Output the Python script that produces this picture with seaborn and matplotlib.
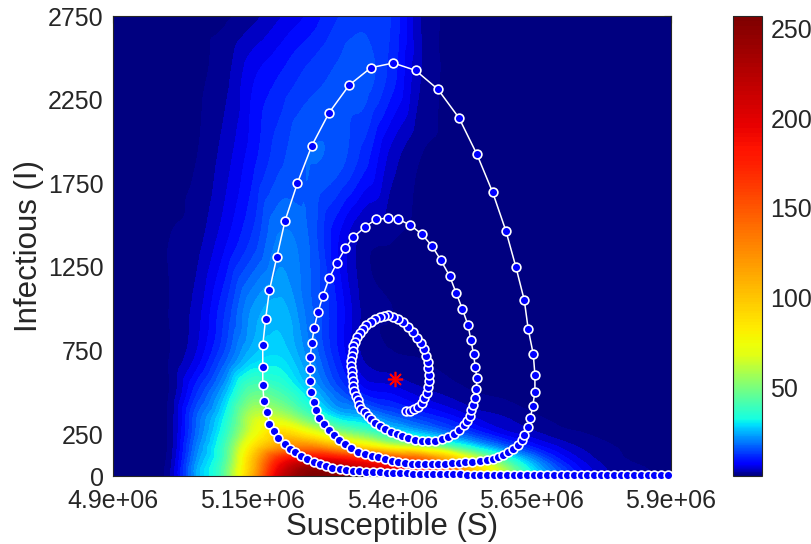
import numpy as np
import pandas as pd
import matplotlib
matplotlib.use("Agg")
import matplotlib.pyplot as plt
import matplotlib.tri as mtri
from matplotlib.colors import ListedColormap, Normalize
from matplotlib.cm import ScalarMappable
import seaborn as sns

# ---- density surface (rows follow grid_I, columns grid_S)
grid_S = [4.90, 5.00, 5.05, 5.10, 5.15, 5.20, 5.25, 5.30, 5.35, 5.40,
          5.45, 5.50, 5.55, 5.60, 5.65, 5.70, 5.75, 5.80, 5.90]   # x 1e6
grid_I = [0, 40, 100, 175, 250, 350, 500, 700, 1000, 1400, 1900, 2400, 2750]
density = [
    [0, 2, 24, 45, 110, 210, 255, 250, 225, 200, 180, 150, 100, 60, 32, 16, 6, 2, 0],
    [0, 2, 24, 45, 105, 200, 245, 240, 215, 195, 178, 145, 95, 58, 30, 15, 6, 2, 0],
    [0, 1.5, 22, 42, 100, 175, 195, 190, 175, 160, 145, 110, 68, 40, 22, 10, 4, 1, 0],
    [0, 1, 20, 40, 85, 120, 130, 110, 88, 70, 60, 45, 30, 18, 10, 5, 2, 0.5, 0],
    [0, 1, 18, 36, 70, 95, 80, 60, 48, 35, 28, 20, 13, 7, 4, 1.5, 0.5, 0, 0],
    [0, 1, 17, 32, 62, 62, 45, 30, 25, 18, 13, 9, 5, 3, 1, 0, 0, 0, 0],
    [0, 0.5, 12, 25, 45, 40, 28, 17, 9, 7, 4, 2, 0.5, 0, 0, 0, 0, 0, 0],
    [0, 0.5, 6, 16, 27, 29, 21, 11, 2.5, 1, 0.5, 0, 0, 0, 0, 0, 0, 0, 0],
    [0, 0.5, 4, 12, 22, 25, 18, 10, 2, 0.5, 0, 0, 0, 0, 0, 0, 0, 0, 0],
    [0, 0.5, 2, 7, 13, 20, 17, 8, 1.5, 0.5, 0, 0, 0, 0, 0, 0, 0, 0, 0],
    [0, 0, 0.5, 4, 9, 14, 17, 16, 11, 4, 0.5, 0, 0, 0, 0, 0, 0, 0, 0],
    [0, 0, 0, 2, 7, 10, 13, 15, 16, 11, 3, 0, 0, 0, 0, 0, 0, 0, 0],
    [0, 0, 0, 0, 2, 5, 8, 12, 14, 12, 3, 0, 0, 0, 0, 0, 0, 0, 0],
]

# ---- simulated trajectory (S in thousands, I)
traj_S_k = [
    5424, 5432, 5440, 5447, 5453, 5458, 5462, 5464, 5466, 5466,
    5465, 5464, 5461, 5457, 5452, 5445, 5438, 5429, 5420, 5411,
    5402, 5393, 5385, 5378, 5369, 5362, 5354, 5348, 5342, 5337,
    5333, 5330, 5329, 5328, 5327, 5327, 5328, 5328, 5329, 5330,
    5332, 5335, 5338, 5341, 5345, 5351, 5356, 5362, 5370, 5379,
    5388, 5398, 5408, 5418, 5429, 5441, 5453, 5465, 5477, 5489,
    5500, 5511, 5520, 5528, 5534, 5539, 5542, 5545, 5548, 5551,
    5552, 5549, 5546, 5541, 5536, 5526, 5515, 5503, 5487, 5471,
    5453, 5432, 5411, 5392, 5371, 5352, 5330, 5316, 5301, 5287,
    5276, 5267, 5260, 5256, 5253, 5253, 5253, 5255, 5259, 5264,
    5269, 5277, 5286, 5295, 5305, 5316, 5327, 5339, 5351, 5363,
    5375, 5387, 5399, 5411, 5423, 5435, 5447, 5459, 5471, 5483,
    5495, 5507, 5519, 5531, 5544, 5558, 5570, 5580, 5590, 5599,
    5608, 5617, 5625, 5632, 5637, 5643, 5648, 5652, 5656, 5656,
    5653, 5644, 5637, 5622, 5604, 5580, 5552, 5520, 5482, 5442,
    5402, 5362, 5323, 5287, 5256, 5230, 5208, 5193, 5180, 5173,
    5168, 5168, 5168, 5170, 5176, 5180, 5188, 5196, 5207, 5217,
    5226, 5237, 5248, 5259, 5270, 5281, 5293, 5306, 5317, 5329,
    5341, 5353, 5366, 5378, 5390, 5402, 5414,
    5426, 5438, 5450, 5462, 5474, 5486, 5498, 5510, 5522, 5534,
    5546, 5558, 5570, 5582, 5594, 5606, 5618, 5630, 5642, 5654,
    5666, 5678, 5690, 5702, 5714, 5726, 5738, 5750, 5762, 5774,
    5786, 5798, 5810, 5822, 5834, 5846, 5858, 5870, 5882, 5894,
]
traj_I = [
    389, 390, 400, 414, 435, 465, 498, 534, 568, 604,
    644, 683, 719, 757, 793, 827, 863, 893, 919, 939,
    952, 960, 957, 948, 937, 921, 903, 881, 857, 831,
    803, 775, 747, 717, 688, 658, 628, 598, 568, 538,
    508, 480, 453, 426, 402, 381, 361, 338, 315, 296,
    279, 263, 249, 237, 227, 218, 211, 209, 212, 221,
    236, 254, 276, 302, 329, 359, 395, 426, 469, 523,
    583, 650, 729, 815, 902, 997, 1092, 1196, 1292, 1377,
    1447, 1501, 1535, 1541, 1535, 1490, 1427, 1361, 1275, 1182,
    1078, 979, 883, 793, 713, 640, 568, 500, 444, 395,
    349, 309, 275, 245, 215, 191, 170, 145, 132, 121,
    112, 100, 92, 84, 76, 74, 70, 70, 70, 72,
    74, 76, 80, 81, 84, 88, 96, 102, 112, 126,
    142, 161, 185, 215, 245, 290, 349, 417, 502, 606,
    729, 877, 1050, 1248, 1465, 1698, 1923, 2140, 2312, 2425,
    2469, 2441, 2337, 2172, 1975, 1750, 1526, 1307, 1110, 937,
    781, 652, 546, 450, 383, 313, 269, 228, 191, 161,
    141, 117, 99, 86, 72, 60, 50, 42, 36, 32,
    28, 26, 24, 22, 20, 18, 16,
    15, 14, 13, 12, 11, 10, 10, 9, 9, 8,
    8, 8, 7, 7, 7, 6, 6, 6, 6, 6,
    5, 5, 5, 5, 5, 5, 5, 4, 4, 4,
    4, 4, 4, 4, 4, 4, 4, 3, 3, 3,
]

# endemic equilibrium
eq_S = 5.406e6
eq_I = 580

x_ticks = [4.9e6, 5.15e6, 5.4e6, 5.65e6, 5.9e6]
x_ticklabels = ["4.9e+06", "5.15e+06", "5.4e+06", "5.65e+06", "5.9e+06"]
y_ticks = [0, 250, 750, 1250, 1750, 2250, 2750]
cbar_ticks = [50, 100, 150, 200, 250]

sns.set_style("white")
plt.rcParams["font.family"] = ["Liberation Sans", "DejaVu Sans"]
dark = "#262626"

# jet, stretched so that low values get more of the colour range
vmin, vmax = 0.5, 257
anchor_v = [0.5, 7.6, 32, 68, 174, 257]
anchor_f = [0.0, 0.125, 0.375, 0.625, 0.875, 1.0]
cvals = np.linspace(vmin, vmax, 512)
cmap = ListedColormap(plt.cm.jet(np.interp(cvals, anchor_v, anchor_f)))
norm = Normalize(vmin, vmax)

fig = plt.figure(figsize=(8.12, 5.44), dpi=100)
ax = fig.add_axes([113.3 / 812, 68 / 544, 557.7 / 812, 460 / 544])
cax = fig.add_axes([733 / 812, 68 / 544, 29 / 812, 460 / 544])

# smooth the read-off grid with matplotlib's cubic triangle refiner
Z = np.array(density, float)
nr, nc = Z.shape
SS, II = np.meshgrid(np.array(grid_S) * 1e6, np.array(grid_I, float))
u = (SS - 4.9e6) / 1e6 * 558.0
v = II / 2750.0 * 460.0
k = np.arange(nr * nc).reshape(nr, nc)[:-1, :-1].ravel()
tris = np.concatenate([np.column_stack([k, k + 1, k + nc]),
                       np.column_stack([k + 1, k + nc + 1, k + nc])])
tri = mtri.Triangulation(u.ravel(), v.ravel(), tris)
interp = mtri.CubicTriInterpolator(tri, Z.ravel(), kind="geom")
fine, zf = mtri.UniformTriRefiner(tri).refine_field(Z.ravel(), triinterpolator=interp,
                                                   subdiv=4)
tri_data = mtri.Triangulation(4.9e6 + fine.x / 558.0 * 1e6,
                              fine.y / 460.0 * 2750.0, fine.triangles)
ax.tricontourf(tri_data, zf, levels=np.linspace(vmin, vmax, 110),
               cmap=cmap, norm=norm, extend="both", antialiased=False)

# trajectory
traj = pd.DataFrame({"S": np.array(traj_S_k) * 1e3, "I": traj_I})
sns.lineplot(data=traj, x="S", y="I", sort=False, estimator=None, ax=ax,
             color="white", lw=1.1, marker="o", markersize=6.3,
             markerfacecolor="blue", markeredgecolor="white",
             markeredgewidth=1.2, clip_on=False, zorder=5)

ax.plot([eq_S], [eq_I], marker=(8, 2, 0), ms=11, mew=1.2, color="red",
        ls="none", zorder=6)

ax.set_xlim(4.9e6, 5.9e6)
ax.set_ylim(0, 2750)
ax.set_xticks(x_ticks)
ax.set_xticklabels(x_ticklabels)
ax.set_yticks(y_ticks)
ax.tick_params(direction="in", length=5, width=0.8, top=True, right=True,
               colors=dark, labelsize=18, pad=7)
ax.tick_params(axis="x", pad=9)
for s in ax.spines.values():
    s.set_color(dark)
    s.set_linewidth(0.8)
ax.set_xlabel("Susceptible (S)", fontsize=22.5, color=dark, labelpad=0)
ax.set_ylabel("Infectious (I)", fontsize=22.5, color=dark, labelpad=3)

cb = fig.colorbar(ScalarMappable(norm=norm, cmap=cmap), cax=cax, ticks=cbar_ticks)
cb.outline.set_edgecolor(dark)
cb.outline.set_linewidth(0.8)
cax.tick_params(direction="in", length=5, width=0.8, colors=dark,
                labelsize=18, pad=6)

fig.savefig("out.png", dpi=100)
